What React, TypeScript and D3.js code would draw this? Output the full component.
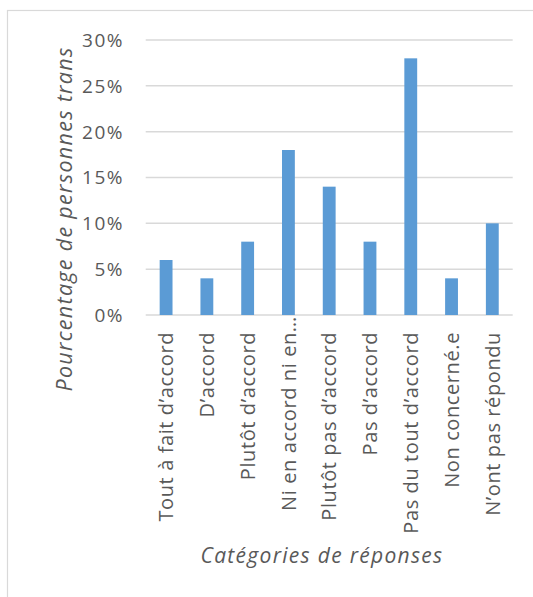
import React from "react";
import * as d3 from "d3";

const categories = [
  "Tout à fait d’accord",
  "D’accord",
  "Plutôt d’accord",
  "Ni en accord ni en…",
  "Plutôt pas d’accord",
  "Pas d’accord",
  "Pas du tout d’accord",
  "Non concerné.e",
  "N’ont pas répondu",
];
const values = [6, 4, 8, 18, 14, 8, 28, 4, 10];
const yTicks = [0, 5, 10, 15, 20, 25, 30];
const yTitle = "Pourcentage de personnes trans";
const xTitle = "Catégories de réponses";

const W = 533;
const H = 597;
const plot = { left: 145.7, right: 512.7, top: 40, bottom: 315 };
const textColor = "#595959";
const font = "'Open Sans', 'Noto Sans', sans-serif";

export default function App() {
  const x = d3.scaleBand<string>().domain(categories).range([plot.left, plot.right]).padding(0);
  const y = d3.scaleLinear().domain([0, 30]).range([plot.bottom, plot.top]);
  const barW = x.bandwidth() * 0.315;

  return (
    <svg
      width={W}
      height={H}
      style={{ position: "absolute", left: 0, top: 0, background: "#fff" }}
      fontFamily={font}
    >
      <rect x={7.5} y={10.5} width={W + 20} height={H + 20} fill="#fff" stroke="#d9d9d9" strokeWidth={1.2} />
      {yTicks.map((t) => (
        <g key={t}>
          <line x1={plot.left} x2={plot.right} y1={y(t)} y2={y(t)} stroke="#d9d9d9" strokeWidth={1.5} />
          <text x={124} y={y(t)} dy="0.36em" textAnchor="end" fontSize={19} letterSpacing={1.5} fill={textColor}>
            {t}%
          </text>
        </g>
      ))}
      {categories.map((c, i) => (
        <rect
          key={c}
          x={(x(c) as number) + x.bandwidth() / 2 - barW / 2}
          y={y(values[i])}
          width={barW}
          height={y(0) - y(values[i])}
          fill="#5b9bd5"
        />
      ))}
      {categories.map((c) => {
        const cx = (x(c) as number) + x.bandwidth() / 2;
        const ty = c.endsWith("…") ? 316 : 332;
        return (
          <text
            key={c}
            transform={`translate(${cx},${ty}) rotate(-90)`}
            dy="0.36em"
            textAnchor="end"
            fontSize={20}
            letterSpacing={0.6}
            fill={textColor}
          >
            {c}
          </text>
        );
      })}
      <text
        transform={`translate(72,219) rotate(-90)`}
        textAnchor="middle"
        fontSize={21.5}
        letterSpacing={1.3}
        fontStyle="italic"
        fill={textColor}
      >
        {yTitle}
      </text>
      <text x={322} y={563} textAnchor="middle" fontSize={21} letterSpacing={1.3} fontStyle="italic" fill={textColor}>
        {xTitle}
      </text>
    </svg>
  );
}
